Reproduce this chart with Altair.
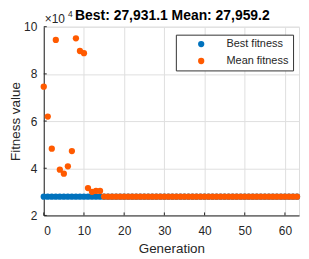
import altair as alt
import pandas as pd

generations = list(range(64))

best_fitness = [
    27931.1, 27931.1, 27931.1, 27931.1, 27931.1, 27931.1, 27931.1, 27931.1,
    27931.1, 27931.1, 27931.1, 27931.1, 27931.1, 27931.1, 27931.1, 27931.1,
    27931.1, 27931.1, 27931.1, 27931.1, 27931.1, 27931.1, 27931.1, 27931.1,
    27931.1, 27931.1, 27931.1, 27931.1, 27931.1, 27931.1, 27931.1, 27931.1,
    27931.1, 27931.1, 27931.1, 27931.1, 27931.1, 27931.1, 27931.1, 27931.1,
    27931.1, 27931.1, 27931.1, 27931.1, 27931.1, 27931.1, 27931.1, 27931.1,
    27931.1, 27931.1, 27931.1, 27931.1, 27931.1, 27931.1, 27931.1, 27931.1,
    27931.1, 27931.1, 27931.1, 27931.1, 27931.1, 27931.1, 27931.1, 27931.1,
]

mean_fitness = [
    74600, 61900, 48300, 94400, 39400, 37700, 40800, 47300,
    95100, 89700, 88800, 31600, 30000, 30400, 30400, 27980,
    27970, 27965, 27962, 27960, 27959.2, 27959.2, 27959.2, 27959.2,
    27959.2, 27959.2, 27959.2, 27959.2, 27959.2, 27959.2, 27959.2, 27959.2,
    27959.2, 27959.2, 27959.2, 27959.2, 27959.2, 27959.2, 27959.2, 27959.2,
    27959.2, 27959.2, 27959.2, 27959.2, 27959.2, 27959.2, 27959.2, 27959.2,
    27959.2, 27959.2, 27959.2, 27959.2, 27959.2, 27959.2, 27959.2, 27959.2,
    27959.2, 27959.2, 27959.2, 27959.2, 27959.2, 27959.2, 27959.2, 27959.2,
]

series_names = ["Best fitness", "Mean fitness"]
series_colors = ["#0072BD", "#FF5A00"]
x_ticks = [0, 10, 20, 30, 40, 50, 60]
y_ticks = [20000, 40000, 60000, 80000, 100000]
title_text = "Best: 27,931.1 Mean: 27,959.2"

W, H = 257, 190
FONT = "Liberation Sans"
AX = "#262626"
GRID = "#DFDFDF"

rows = []
for g, v in zip(generations, best_fitness):
    rows.append({"Generation": g, "Fitness": v, "Series": series_names[0]})
for g, v in zip(generations, mean_fitness):
    rows.append({"Generation": g, "Fitness": v, "Series": series_names[1]})
df = pd.DataFrame(rows)

xscale = alt.Scale(domain=[0, 63.5], nice=False, zero=False)
yscale = alt.Scale(domain=[20000, 100000], nice=False, zero=False)

points = alt.Chart(df).mark_circle(size=40, opacity=1).encode(
    x=alt.X("Generation:Q", scale=xscale,
            axis=alt.Axis(values=x_ticks, title="Generation", grid=True,
                          gridColor=GRID, domainColor=AX, ticks=False,
                          labelPadding=10, titlePadding=5,
                          labelFont=FONT, labelFontSize=12, labelColor=AX,
                          titleFont=FONT, titleFontSize=13.5, titleColor=AX,
                          titleFontWeight="normal")),
    y=alt.Y("Fitness:Q", scale=yscale,
            axis=alt.Axis(values=y_ticks, title="Fitness value", grid=True,
                          labelExpr="datum.value / 10000",
                          gridColor=GRID, domainColor=AX, ticks=False,
                          labelPadding=7, titlePadding=1.5,
                          labelFont=FONT, labelFontSize=12, labelColor=AX,
                          titleFont=FONT, titleFontSize=13.5, titleColor=AX,
                          titleFontWeight="normal")),
    color=alt.Color("Series:N",
                    scale=alt.Scale(domain=series_names, range=series_colors),
                    legend=alt.Legend(title=None, orient="none",
                                      legendX=133, legendY=8,
                                      fillColor="white", strokeColor="#333333",
                                      padding=4, symbolType="circle",
                                      symbolSize=40, symbolStrokeWidth=0,
                                      symbolOffset=16, labelOffset=20,
                                      labelFont=FONT, labelFontSize=11,
                                      labelColor="#262626", rowPadding=5,
                                      labelLimit=200)),
)

xt = pd.DataFrame({"Generation": x_ticks})
x_tick_marks = alt.Chart(xt).mark_rule(color=AX, strokeWidth=1).encode(
    x=alt.X("Generation:Q", scale=xscale), y=alt.value(H), y2=alt.value(H - 3))

yt = pd.DataFrame({"Fitness": y_ticks})
y_tick_marks = alt.Chart(yt).mark_rule(color=AX, strokeWidth=1).encode(
    y=alt.Y("Fitness:Q", scale=yscale), x=alt.value(0), x2=alt.value(3))

one = pd.DataFrame({"t": [title_text]})
title = alt.Chart(one).mark_text(font=FONT, fontSize=14, fontWeight="bold",
                                 color="black", align="center",
                                 baseline="alphabetic").encode(
    text="t:N", x=alt.value(W / 2 + 1), y=alt.value(-7))

exp1 = alt.Chart(pd.DataFrame({"t": ["\u00d710"]})).mark_text(
    font=FONT, fontSize=12, color=AX, align="left", baseline="alphabetic").encode(
    text="t:N", x=alt.value(1), y=alt.value(-3.5))
exp2 = alt.Chart(pd.DataFrame({"t": ["4"]})).mark_text(
    font=FONT, fontSize=8.5, color=AX, align="left", baseline="alphabetic").encode(
    text="t:N", x=alt.value(24.5), y=alt.value(-10))

chart = alt.layer(points, x_tick_marks, y_tick_marks, title, exp1, exp2).properties(
    width=W, height=H,
    autosize=alt.AutoSizeParams(type="none"),
    padding={"left": 36, "top": 18, "right": 2, "bottom": 40},
).configure_view(stroke=None).configure(background="white")

chart.save("out.html", embed_options={"renderer": "svg", "actions": False})
